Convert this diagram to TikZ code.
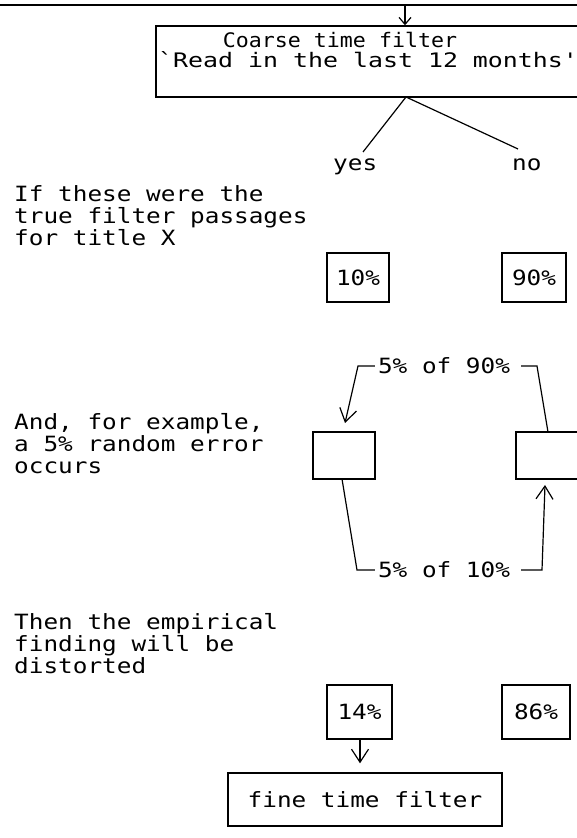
\documentclass[tikz,border=0pt]{standalone}
\usepackage{fontspec}
\setmainfont{DejaVu Sans Mono}
\newfontfamily\monoA[FakeStretch=1.16]{DejaVu Sans Mono}
\newfontfamily\monoB[FakeStretch=1.245]{DejaVu Sans Mono}
\newfontfamily\monoC[FakeStretch=1.08]{DejaVu Sans Mono}
\usetikzlibrary{arrows.meta}
\begin{document}
\begin{tikzpicture}[x=1pt,y=1pt,
  txt/.style={font=\monoA\fontsize{21}{21}\selectfont, inner sep=0pt},
  boxn/.style={draw, line width=1.4pt, inner sep=0pt},
  wire/.style={line width=1.2pt},
  tipS/.style={-{Straight Barb[length=7pt,width=12pt]}},
  tipL/.style={-{Straight Barb[length=13pt,width=17pt]}}
]
\useasboundingbox (0,0) rectangle (577,838);
\clip (0,0) rectangle (577,838);

% top rule
\coordinate (tl) at (0,833);
\coordinate (tr) at (577,833);
\draw[line width=2.5pt] (tl) -- (tr);
\coordinate (topin) at (405,833);

% coarse time filter box
\node[boxn, minimum width=444pt, minimum height=71pt] (cb) at (378,776.5) {};
\node[inner sep=0pt, font=\monoC\fontsize{20}{20}\selectfont, anchor=base] (cbt1) at (340,790) {Coarse time filter};
\node[inner sep=0pt, font=\monoB\fontsize{20}{20}\selectfont, anchor=base west] (cbt2) at (158,770) {`Read in the last 12 months'};
\draw[wire, tipS] (topin) -- (topin |- cb.north);

% split
\coordinate (split) at (406,741);
\node[txt, anchor=base west] (yes) at (333,667) {yes};
\node[txt, anchor=base west] (no) at (512,667) {no};
\coordinate (yesend) at (363,686);
\coordinate (noend) at (518,689);
\draw[wire] (yesend) -- (split) -- (noend);

% left texts
\node[txt, anchor=base west] (l1a) at (14,636) {If these were the};
\node[txt, anchor=base west] (l1b) at (14,614) {true filter passages};
\node[txt, anchor=base west] (l1c) at (14,592) {for title X};

\node[txt, anchor=base west] (l2a) at (14,408) {And, for example,};
\node[txt, anchor=base west] (l2b) at (14,386) {a 5\% random error};
\node[txt, anchor=base west] (l2c) at (14,364) {occurs};

\node[txt, anchor=base west] (l3a) at (14,208) {Then the empirical};
\node[txt, anchor=base west] (l3b) at (14,186) {finding will be};
\node[txt, anchor=base west] (l3c) at (14,164) {distorted};

% true percentages
\node[boxn, minimum width=62pt, minimum height=49pt, font=\monoA\fontsize{21}{21}\selectfont] (p10) at (358,560.5) {10\%};
\node[boxn, minimum width=64pt, minimum height=49pt, font=\monoA\fontsize{21}{21}\selectfont] (p90) at (534,560.5) {90\%};

% error boxes
\node[boxn, minimum width=62pt, minimum height=47pt] (lb) at (344,382.5) {};
\node[boxn, minimum width=84pt, minimum height=47pt] (rb) at (558,382.5) {};

\node[txt, inner xsep=3pt] (t90) at (444,472) {5\% of 90\%};
\node[txt, inner xsep=3pt] (t10) at (444,268) {5\% of 10\%};

\coordinate (r1) at (548,406);
\coordinate (r2) at (537,472);
\coordinate (r3) at (521,472);
\coordinate (l1) at (358,472);
\coordinate (l2) at (345,415);
\draw[wire] (r1) -- (r2) -- (r3);
\draw[wire, tipL] (t90.west) -- (l1) -- (l2);

\coordinate (b1) at (342,359);
\coordinate (b2) at (357,268);
\coordinate (b3) at (521,268);
\coordinate (b4) at (542,268);
\coordinate (b5) at (545,353);
\draw[wire] (b1) -- (b2) -- (t10.west);
\draw[wire, tipL] (b3) -- (b4) -- (b5);

% empirical percentages
\node[boxn, minimum width=65pt, minimum height=54pt, font=\monoA\fontsize{21}{21}\selectfont] (p14) at (359.5,126) {14\%};
\node[boxn, minimum width=68pt, minimum height=54pt, font=\monoA\fontsize{21}{21}\selectfont] (p86) at (536,126) {86\%};

% fine time filter
\node[boxn, minimum width=274pt, minimum height=53pt, font=\monoA\fontsize{21}{21}\selectfont] (fb) at (365,38.5) {fine time filter};
\coordinate (a1) at (360,99);
\draw[wire, tipL, shorten >=9pt] (a1) -- (a1 |- fb.north);
\end{tikzpicture}
\end{document}
